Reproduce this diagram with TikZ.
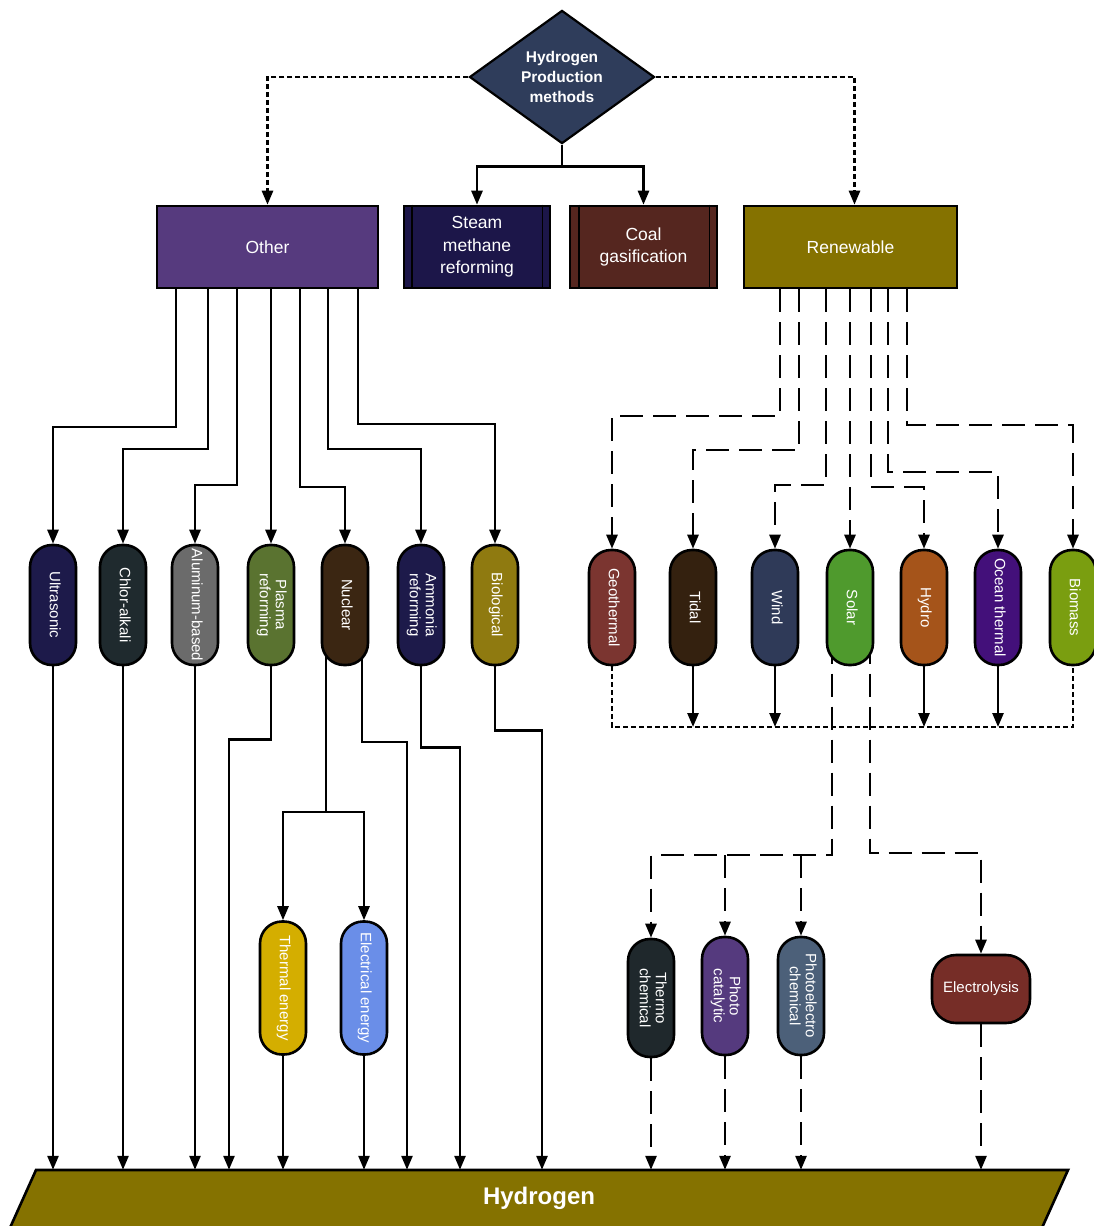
\documentclass[tikz,border=0pt]{standalone}
\usepackage{fontspec}
\setmainfont{Liberation Sans}
\usetikzlibrary{shapes.geometric,arrows.meta,backgrounds}
\definecolor{cDia}{HTML}{2F3D5B}
\definecolor{cOther}{HTML}{563A7E}
\definecolor{cSMR}{HTML}{1C1649}
\definecolor{cCoal}{HTML}{55261F}
\definecolor{cRen}{HTML}{857200}
\definecolor{cUltra}{HTML}{1D1A4A}
\definecolor{cChlor}{HTML}{1F2A2E}
\definecolor{cAlu}{HTML}{6B6B6B}
\definecolor{cPlasma}{HTML}{5A7330}
\definecolor{cNuc}{HTML}{3B2612}
\definecolor{cAmm}{HTML}{1D1A4A}
\definecolor{cBio}{HTML}{8F7A10}
\definecolor{cGeo}{HTML}{7B3530}
\definecolor{cTidal}{HTML}{34210F}
\definecolor{cWind}{HTML}{2F3A58}
\definecolor{cSolar}{HTML}{4F9A2D}
\definecolor{cHydro}{HTML}{A5541A}
\definecolor{cOcean}{HTML}{43107A}
\definecolor{cBiom}{HTML}{7A9E10}
\definecolor{cTherm}{HTML}{D4AE00}
\definecolor{cElec}{HTML}{6A8EE8}
\definecolor{cTC}{HTML}{1F282C}
\definecolor{cPC}{HTML}{553A7E}
\definecolor{cPEC}{HTML}{4C6079}
\definecolor{cElys}{HTML}{762D27}
\definecolor{cHtwo}{HTML}{857200}
\newcommand{\vtxt}[1]{\rotatebox{-90}{\begin{tabular}{@{}c@{}}#1\end{tabular}}}
\begin{document}
\begin{tikzpicture}[x=1pt,y=-1pt,
  plain/.style={line width=2.6pt},
  arr/.style={line width=2.6pt,-{Triangle[length=14pt,width=11pt]}},
  ldash/.style={dash pattern=on 23pt off 10pt},
  sdot/.style={dash pattern=on 5pt off 3pt},
  pill/.style={draw=black,line width=2.6pt,rounded corners=22pt,minimum width=46pt,inner sep=0pt,text=white,font=\fontsize{15}{16}\selectfont},
  box/.style={draw=black,line width=2.6pt,minimum height=82pt,inner sep=2pt,text=white,align=center,font=\fontsize{17.5}{22.5}\selectfont},
]
\useasboundingbox (0,0) rectangle (1094,1226);

% top
\node[shape=diamond,draw=black,line width=2.2pt,fill=cDia,minimum width=185pt,minimum height=128pt,inner sep=0pt,text=white,align=center,font=\bfseries\fontsize{15.5}{20}\selectfont] (dia) at (562,77) {Hydrogen\\Production\\methods};

\node[box,fill=cOther,minimum width=221pt] (other) at (267.5,247) {Other};
\node[box,fill=cSMR,minimum width=146pt] (smr) at (477,247) {Steam\\methane\\reforming};
\node[box,fill=cCoal,minimum width=147pt] (coal) at (643.5,247) {Coal\\gasification};
\node[box,fill=cRen,minimum width=213pt] (ren) at (850.5,247) {Renewable};
\draw[line width=1.6pt] ([xshift=9pt]smr.north west) -- ([xshift=9pt]smr.south west);
\draw[line width=1.6pt] ([xshift=-9pt]smr.north east) -- ([xshift=-9pt]smr.south east);
\draw[line width=1.6pt] ([xshift=10pt]coal.north west) -- ([xshift=10pt]coal.south west);
\draw[line width=1.6pt] ([xshift=-9pt]coal.north east) -- ([xshift=-9pt]coal.south east);

% left pills
\node[pill,fill=cUltra,minimum height=120pt] (ultra) at (53,605) {\vtxt{Ultrasonic}};
\node[pill,fill=cChlor,minimum height=120pt] (chlor) at (123,605) {\vtxt{Chlor-alkali}};
\node[pill,fill=cAlu,minimum height=120pt] (alum) at (195,605) {\vtxt{Aluminum-based}};
\node[pill,fill=cPlasma,minimum height=120pt] (plasma) at (271,605) {\vtxt{Plasma\\reforming}};
\node[pill,fill=cNuc,minimum height=120pt] (nuc) at (345,605) {\vtxt{Nuclear}};
\node[pill,fill=cAmm,minimum height=120pt] (amm) at (421,605) {\vtxt{Ammonia\\reforming}};
\node[pill,fill=cBio,minimum height=120pt] (bio) at (495,605) {\vtxt{Biological}};

\node[pill,fill=cTherm,minimum height=133pt] (therm) at (283,988) {\vtxt{Thermal energy}};
\node[pill,fill=cElec,minimum height=133pt] (elec) at (364,988) {\vtxt{Electrical energy}};

% renewable pills
\node[pill,fill=cGeo,minimum height=115pt] (geo) at (612,607.5) {\vtxt{Geothermal}};
\node[pill,fill=cTidal,minimum height=115pt] (tidal) at (693,607.5) {\vtxt{Tidal}};
\node[pill,fill=cWind,minimum height=115pt] (wind) at (775,607.5) {\vtxt{Wind}};
\node[pill,fill=cSolar,minimum height=115pt] (solar) at (850,607.5) {\vtxt{Solar}};
\node[pill,fill=cHydro,minimum height=115pt] (hydro) at (924,607.5) {\vtxt{Hydro}};
\node[pill,fill=cOcean,minimum height=115pt] (ocean) at (998,607.5) {\vtxt{Ocean thermal}};
\node[pill,fill=cBiom,minimum height=115pt] (biom) at (1073,607.5) {\vtxt{Biomass}};

\node[pill,fill=cTC,minimum height=118pt] (tc) at (651,998) {\vtxt{Thermo\\chemical}};
\node[pill,fill=cPC,minimum height=118pt] (pc) at (725,996) {\vtxt{Photo\\catalytic}};
\node[pill,fill=cPEC,minimum height=118pt] (pec) at (801,996) {\vtxt{Photoelectro\\chemical}};
\node[draw=black,line width=2.6pt,rounded corners=24pt,fill=cElys,minimum width=98pt,minimum height=68pt,text=white,font=\fontsize{15}{16}\selectfont] (elys) at (981,989) {Electrolysis};

% hydrogen
\draw[line width=2.6pt,fill=cHtwo] (36,1170) -- (1068,1170) -- (1036.5,1240) -- (4.5,1240) -- cycle;
\node[minimum width=1032pt,minimum height=56pt,inner sep=0pt,text=white,font=\bfseries\fontsize{24}{26}\selectfont] (h2) at (539,1198) {Hydrogen};

\begin{pgfonlayer}{background}
\fill[white] (0,0) rectangle (1094,1226);
% top connectors
\draw[arr,sdot] (dia.west) -| (other.north);
\draw[arr,sdot] (dia.east) -| ([xshift=4pt]ren.north);
\draw[arr] (dia.south) -- ++(0,22) -| (smr.north);
\draw[arr] (dia.south) -- ++(0,22) -| (coal.north);

% other
\draw[arr] (other.south -| 176,0) -- (176,427) -| (ultra.north);
\draw[arr] (other.south -| 208,0) -- (208,449) -| (chlor.north);
\draw[arr] (other.south -| 237,0) -- (237,485) -| (alum.north);
\draw[arr] (other.south -| plasma.north) -- (plasma.north);
\draw[arr] (other.south -| 300,0) -- (300,487) -| (nuc.north);
\draw[arr] (other.south -| 328,0) -- (328,449) -| (amm.north);
\draw[arr] (other.south -| 358,0) -- (358,424) -| (bio.north);

\draw[arr] (ultra.south) -- (ultra.south |- h2.north);
\draw[arr] (chlor.south) -- (chlor.south |- h2.north);
\draw[arr] (alum.south) -- (alum.south |- h2.north);
\draw[arr] (plasma.south) -- ++(0,73) -| (h2.north -| 229,0);
\draw[arr] (nuc.center -| 326,0) -- (326,812) -| (therm.north);
\draw[arr] (326,812) -| (elec.north);
\draw[arr] (nuc.center -| 362,0) -- (362,742) -| (h2.north -| 407,0);
\draw[arr] (amm.south) -- ++(0,81) -| (h2.north -| 460,0);
\draw[arr] (bio.south) -- ++(0,64) -| (h2.north -| 542,0);
\draw[arr] (therm.south) -- (therm.south |- h2.north);
\draw[arr] (elec.south) -- (elec.south |- h2.north);

% renewable
\draw[arr,ldash] (ren.south -| 780,0) -- (780,416) -| (geo.north);
\draw[arr,ldash] (ren.south -| 799,0) -- (799,450) -| (tidal.north);
\draw[arr,ldash] (ren.south -| 826,0) -- (826,485) -| (wind.north);
\draw[arr,ldash] (ren.south -| solar.north) -- (solar.north);
\draw[arr,ldash] (ren.south -| 871,0) -- (871,487) -| (hydro.north);
\draw[arr,ldash] (ren.south -| 888,0) -- (888,472) -| (ocean.north);
\draw[arr,ldash] (ren.south -| 907,0) -- (907,425) -| (biom.north);

\draw[plain,sdot] (geo.south) -- (geo.south |- 0,727) -- (biom.south |- 0,727) -- (biom.south);
\draw[arr] (tidal.south) -- (tidal.south |- 0,727);
\draw[arr] (wind.south) -- (wind.south |- 0,727);
\draw[arr] (hydro.south) -- (hydro.south |- 0,727);
\draw[arr] (ocean.south) -- (ocean.south |- 0,727);

\draw[arr,ldash] (solar.center -| 832,0) -- (832,855) -| (tc.north);
\draw[arr,ldash] (pc.north |- 0,855) -- (pc.north);
\draw[arr,ldash] (pec.north |- 0,855) -- (pec.north);
\draw[arr,ldash] (solar.center -| 870,0) -- (870,853) -| (elys.north);

\draw[arr,ldash] (tc.south) -- (tc.south |- h2.north);
\draw[arr,ldash] (pc.south) -- (pc.south |- h2.north);
\draw[arr,ldash] (pec.south) -- (pec.south |- h2.north);
\draw[arr,ldash] (elys.south) -- (elys.south |- h2.north);
\end{pgfonlayer}
\end{tikzpicture}
\end{document}
